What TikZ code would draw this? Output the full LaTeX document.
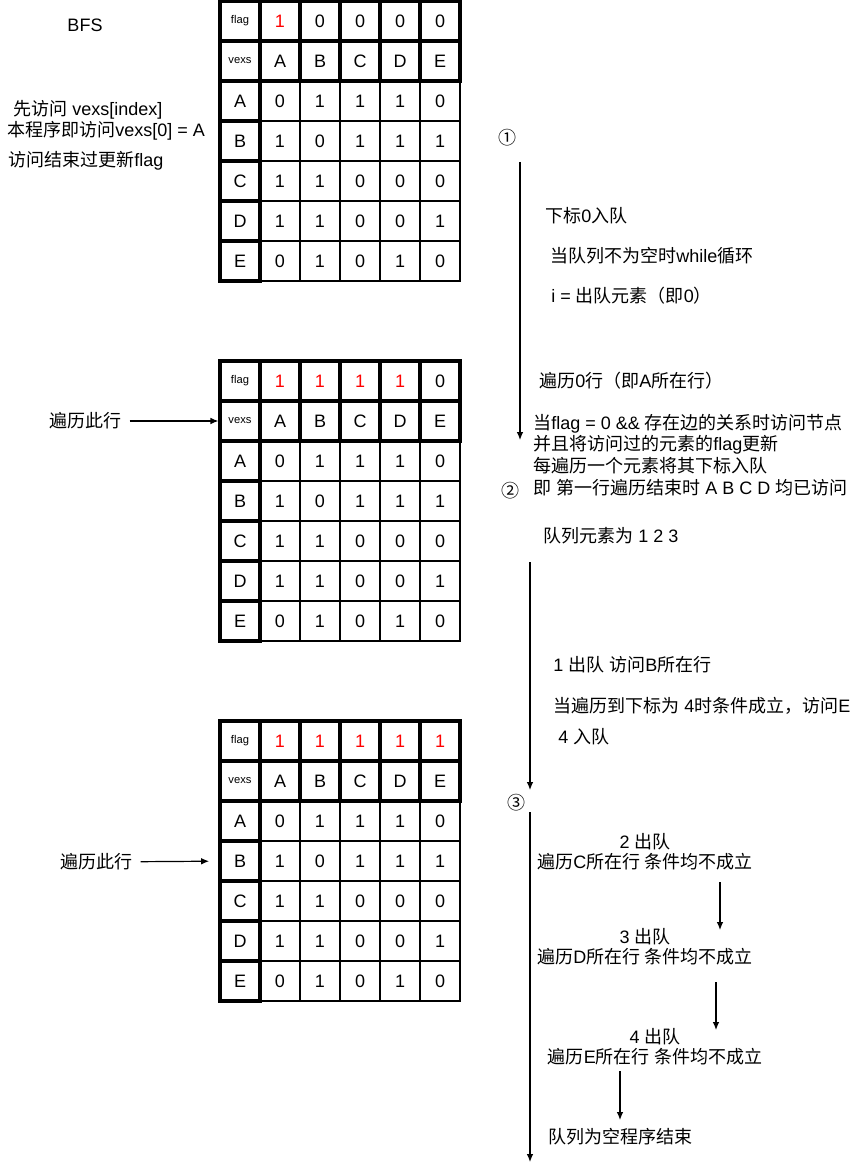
\documentclass[tikz,border=0pt]{standalone}
\usepackage{fontspec}
\setmainfont{Liberation Sans}
\newfontfamily\cjk{Noto Sans CJK SC}
\usetikzlibrary{arrows.meta}
\begin{document}
\begin{tikzpicture}[
		x=0.75pt,
		y=-0.75pt,
		cell/.style={draw,line width=0.9pt,minimum size=30pt,inner sep=0pt,font=\fontsize{13.5}{16}\selectfont},
		thickcell/.style={cell,line width=2.4pt},
		smalllbl/.style={font=\fontsize{8.4}{10}\selectfont},
		txt/.style={inner sep=0pt,anchor=west,font=\fontsize{13.5}{16}\selectfont},
		stepbox/.style={inner sep=0pt,align=center,font=\fontsize{13.5}{15}\selectfont},
		flow/.style={-{Latex[length=6pt,width=5pt]},line width=0.9pt},
	]
		\useasboundingbox (0,0) rectangle (861,1170);
		
		\foreach \t/\ty/\flags in {1/0/{1/red,0/black,0/black,0/black,0/black}, 2/360/{1/red,1/red,1/red,1/red,0/black}, 3/720/{1/red,1/red,1/red,1/red,1/red}}{
			\begin{scope}[shift={(0,\ty)}]
				\foreach \r/\row [count=\i] in {A/{0,1,1,1,0}, B/{1,0,1,1,1}, C/{1,1,0,0,0}, D/{1,1,0,0,1}, E/{0,1,0,1,0}}{
					\foreach \v [count=\j] in \row{
						\node[cell] (t\t-\r-\j) at ({240+40*\j},{61+40*\i}) {\v};
					}
					\node[thickcell] (t\t-\r) at (240,{61+40*\i}) {\r};
				}
				\node[thickcell,smalllbl] (t\t-flag) at (240,21) {flag};
				\node[thickcell,smalllbl] (t\t-vexs) at (240,61) {vexs};
				\foreach \v/\c [count=\j] in \flags{
					\node[thickcell,text=\c] (t\t-f\j) at ({240+40*\j},21) {\v};
				}
				\foreach \v [count=\j] in {A,B,C,D,E}{
					\node[thickcell] (t\t-v\j) at ({240+40*\j},61) {\v};
				}
			\end{scope}
		}
		
		% left notes
		\node[txt,anchor=center] (bfs) at (85,25) {BFS};
		\node[txt] (note1) at (13,110) {{\cjk 先访问} vexs[index]};
		\node[txt] (note2) at (7,131) {{\cjk 本程序即访问}vexs[0] = A};
		\node[txt] (note3) at (8,161) {{\cjk 访问结束过更新}flag};
		\node[txt] (scan2) at (49,421) {\cjk 遍历此行};
		\node[txt] (scan3) at (60,862) {\cjk 遍历此行};
		\draw[flow,shorten <=6pt] (scan2) -- (t2-vexs);
		\draw[flow,shorten <=6pt,shorten >=7pt] (scan3) -- (t3-B);
		
		% step 1
		\node[txt,anchor=center] (n1) at (507,138) {\cjk ①};
		\node[txt] (enq0) at (545,216) {{\cjk 下标}0{\cjk 入队}};
		\node[txt] (loop) at (550,256) {{\cjk 当队列不为空时}while{\cjk 循环}};
		\node[txt] (deq0) at (551,296) {i = {\cjk 出队元素（即}0{\cjk ）}};
		\node[txt] (row0) at (539,381) {{\cjk 遍历}0{\cjk 行（即}A{\cjk 所在行）}};
		\node[txt,align=left,font=\fontsize{13.5}{16.4}\selectfont] (rule) at (533,455) {{\cjk 当}flag = 0 \&\& {\cjk 存在边的关系时访问节点}\\{\cjk 并且将访问过的元素的}flag{\cjk 更新}\\{\cjk 每遍历一个元素将其下标入队}\\{\cjk 即} {\cjk 第一行遍历结束时} A B C D {\cjk 均已访问}};
		\coordinate (q1a) at (520,162);
		\coordinate (q1b) at (520,440);
		\draw[flow] (q1a) -- (q1b);
		
		% step 2
		\node[txt,anchor=center] (n2) at (510,491) {\cjk ②};
		\node[txt] (queue) at (543,536) {{\cjk 队列元素为} 1 2 3};
		\node[txt] (deq1) at (553,665) {1 {\cjk 出队} {\cjk 访问}B{\cjk 所在行}};
		\node[txt] (visitE) at (553,706) {{\cjk 当遍历到下标为} 4{\cjk 时条件成立，访问}E};
		\node[txt] (enq4) at (558,737) {4 {\cjk 入队}};
		\coordinate (q2a) at (530,562);
		\coordinate (q2b) at (530,790);
		\draw[flow] (q2a) -- (q2b);
		
		% step 3
		\node[txt,anchor=center] (n3) at (516,803) {\cjk ③};
		\node[stepbox] (deq2) at (645,852) {2 {\cjk 出队}\\{\cjk 遍历}C{\cjk 所在行 条件均不成立}};
		\node[stepbox] (deq3) at (645,947) {3 {\cjk 出队}\\{\cjk 遍历}D{\cjk 所在行 条件均不成立}};
		\node[stepbox] (deq4) at (655,1047) {4 {\cjk 出队}\\{\cjk 遍历}E{\cjk 所在行 条件均不成立}};
		\node[txt] (done) at (548,1137) {\cjk 队列为空程序结束};
		\coordinate (q3a) at (530,812);
		\coordinate (q3b) at (530,1162);
		\draw[flow] (q3a) -- (q3b);
		\coordinate (c2a) at (720,882);
		\coordinate (c2b) at (720,930);
		\coordinate (c3a) at (716,982);
		\coordinate (c3b) at (716,1030);
		\coordinate (c4a) at (620,1071);
		\coordinate (c4b) at (620,1120);
		\draw[flow] (c2a) -- (c2b);
		\draw[flow] (c3a) -- (c3b);
		\draw[flow] (c4a) -- (c4b);
	\end{tikzpicture}
\end{document}
